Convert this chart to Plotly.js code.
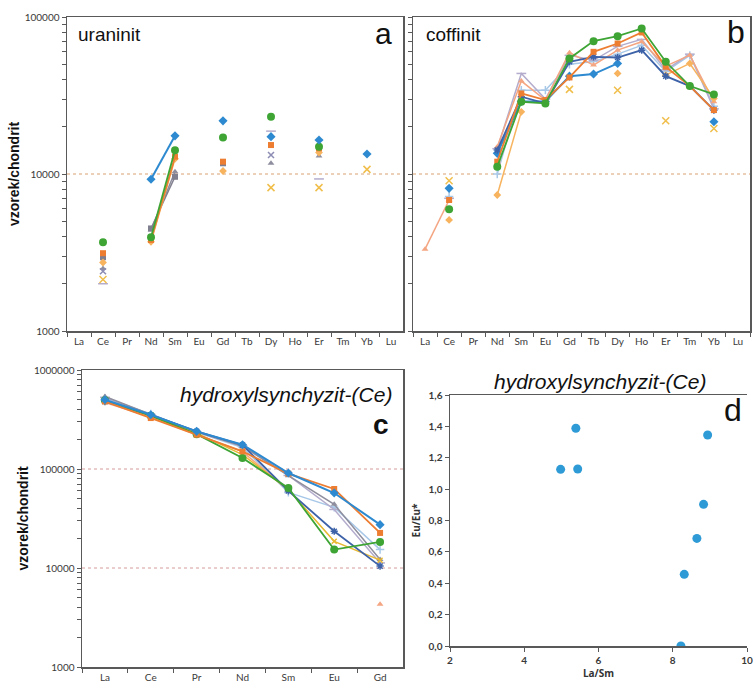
<!DOCTYPE html>
<html><head><meta charset="utf-8">
<script src="https://cdn.plot.ly/plotly-3.0.1.min.js"></script>
<style>html,body{margin:0;padding:0;background:#fff}#chart{width:753px;height:687px}</style>
</head><body><div id="chart"></div>
<script>
// ---------- categories ----------
const REE14 = ['La','Ce','Pr','Nd','Sm','Eu','Gd','Tb','Dy','Ho','Er','Tm','Yb','Lu'];
const REE7 = ['La','Ce','Pr','Nd','Sm','Eu','Gd'];
const n = null;

// ---------- a: uraninit ----------
const uran_s1 = [n, n,    n, 9250, 17500, n, 21800, n, 17300, n, 16450, n, 13400, n];
const uran_s2 = [n, 3130, n, 3800, 12900, n, 11980, n, 15290, n, 14570, n, n, n];
const uran_s3 = [n, 2500, n, 4400, 10340, n, n,     n, 11700, n, 13000, n, n, n];
const uran_s4 = [n, 2130, n, n,    n,     n, n,     n, 8190,  n, 8190,  n, 10700, n];
const uran_s5 = [n, 2950, n, 4500, 9600,  n, 11700, n, n,     n, n,     n, n, n];
const uran_s6 = [n, 3675, n, 3955, 14150, n, 17100, n, 23170, n, 14930, n, n, n];
const uran_s7 = [n, 2730, n, 3700, 12500, n, 10450, n, n,     n, 13700, n, n, n];
const uran_s8 = [n, 2400, n, n,    n,     n, n,     n, 13200, n, n,     n, n, n];
const uran_s9 = [n, 2000, n, n,    n,     n, n,     n, 18750, n, 9300,  n, n, n];

// ---------- b: coffinit ----------
const coff_s1 = [n,    8100, n, 13540, 29000, 29000, 42000, 43300, 50600, n,     n,     n,     21530, n];
const coff_s2 = [n,    6830, n, 11980, 32600, 29600, 41200, 60000, 67800, 79700, 48200, 36300, 25540, n];
const coff_s3 = [n,    n,    n, 14200, 31050, 28150, 51860, 55800, 55200, 61500, 42000, 36300, 25500, n];
const coff_s4 = [n,    9070, n, n,     n,     n,     34600, n,     34200, n,     21850, n,     19500, n];
const coff_s5 = [n,    7000, n, 14500, 43700, 30000, 57000, 53000, 65000, 72000, 46000, 58000, 26000, n];
const coff_s6 = [n,    5960, n, 11130, 28850, 28150, 54450, 70200, 75500, 84500, 51860, 36300, 32140, n];
const coff_s7 = [n,    7200, n, 10000, 34200, 34200, 50000, 52000, 58000, 66000, 45000, 57000, 27000, n];
const coff_s8 = [n,    5100, n, 7350,  24900, n,     n,     n,     43700, n,     42600, 50600, 30300, n];
const coff_s9 = [3320, 6830, n, 14930, 39070, 29600, 59300, 49400, 61500, 69600, 48700, 57150, 28850, n];

// ---------- c: hydroxylsynchyzit-(Ce) ----------
const hyd_s1 = [501000, 353000, 240000, 176000, 91100, 57200, 27400];
const hyd_s2 = [482000, 327000, 222000, 150700, 89700, 62800, 22600];
const hyd_s3 = [540000, 355000, 238000, 170000, 85600, 44000, 12200];
const hyd_s4 = [490000, 345000, 230000, 140000, 62000, 18600, 12000];
const hyd_s5 = [480000, 350000, 240000, 175000, 60000, 23500, 10450];
const hyd_s6 = [495000, 345000, 225000, 129000, 64300, 15350, 18350];
const hyd_s7 = [520000, 360000, 235000, 165000, 58000, 41000, 15350];
const hyd_s8 = [470000, 335000, 222000, 150000, 61000, n,     4300];
const hyd_s9 = [530000, 355000, 235000, 172000, 86000, 39000, 11250];

// ---------- d: Eu/Eu* vs La/Sm ----------
const laSm = [5.39, 4.98, 5.44, 8.94, 8.83, 8.65, 8.31, 8.22];
const euEu = [1.388, 1.126, 1.128, 1.345, 0.903, 0.686, 0.457, 0.0];

// ---------- tick labels ----------
const logTickLabels3to5 = ['1000','10000','100000'];
const logTickLabels3to6 = ['1000','10000','100000','1000000'];

// ---------- styles ----------
const S = [
  {c:'#2E8AD0', sym:'diamond', sz:7, w:2},
  {c:'#ED7D31', sym:'square', sz:6, w:1.8},
  {c:'#8E8E9E', sym:'triangle-up', sz:6, w:1.5},
  {c:'#F0BE4A', sym:'x-thin-open', sz:7, w:1.5},
  {c:'#3D62A8', sym:'asterisk-open', sz:6, w:1.8},
  {c:'#3EA535', sym:'circle', sz:8, w:1.8},
  {c:'#A8C8E8', sym:'cross-thin-open', sz:6, w:1.5},
  {c:'#F7B35E', sym:'diamond', sz:6, w:1.5},
  {c:'#B4ACCC', sym:'line-ew-open', sz:7, w:1.5},
  {c:'#F4A582', sym:'triangle-up', sz:6, w:1.5}
];

function tr(x, y, st, xa, ya) {
  const open = st.sym.indexOf('open') >= 0;
  return {x: x, y: y, type:'scatter', mode:'lines+markers', connectgaps:false,
    xaxis: xa, yaxis: ya, showlegend:false, hoverinfo:'x+y',
    line:{color: st.c, width: st.w},
    marker:{symbol: st.sym, size: st.sz, color: st.c, line:{color: st.c, width: open ? 1.5 : 0}}};
}

const traces = [];
// a
[[uran_s3,S[2]],[uran_s5,{c:'#7F7F8F',sym:'square',sz:6,w:1.5}],[uran_s8,{c:'#8C8CB4',sym:'x-thin-open',sz:6,w:1.5}],
 [uran_s9,S[8]],[uran_s7,S[7]],[uran_s4,S[3]],[uran_s2,S[1]],[uran_s6,S[5]],[uran_s1,S[0]]]
 .forEach(p => traces.push(tr(REE14, p[0], p[1], 'x', 'y')));
// b
[[coff_s7,S[6]],[coff_s5,S[8]],[coff_s9,S[9]],[coff_s8,S[7]],[coff_s4,S[3]],[coff_s1,S[0]],
 [coff_s3,S[4]],[coff_s2,S[1]],[coff_s6,S[5]]]
 .forEach(p => traces.push(tr(REE14, p[0], p[1], 'x2', 'y2')));
// c
[[hyd_s7,S[6]],[hyd_s9,S[8]],[hyd_s3,S[2]],[hyd_s8,S[9]],[hyd_s4,{c:'#E8B830',sym:'x-thin-open',sz:5,w:1.5}],
 [hyd_s5,S[4]],[hyd_s6,S[5]],[hyd_s2,S[1]],[hyd_s1,S[0]]]
 .forEach(p => traces.push(tr(REE7, p[0], p[1], 'x3', 'y3')));
// d
traces.push({x: laSm, y: euEu, type:'scatter', mode:'markers', xaxis:'x4', yaxis:'y4', showlegend:false,
  marker:{color:'#2E9BD6', size:9, symbol:'circle'}});

// log ticks (decades labelled, minor ticks unlabelled)
function logTicks(d0, d1, labels, blank) {
  const v = [], t = [];
  for (let d = d0; d <= d1; d++) {
    const base = Math.pow(10, d);
    for (let m = 1; m <= 9; m++) {
      if (d === d1 && m > 1) break;
      v.push(m * base);
      t.push(m === 1 && !blank ? labels[d - d0] : '');
    }
  }
  return {tickvals: v, ticktext: t};
}

const W = 753, H = 687;
const px = x => x / W, py = y => 1 - y / H;
const tickFont = {family:'Lato, "Open Sans", sans-serif', size:10, color:'#3a3a3a'};
const lineCol = '#595959';

function catAxis(domain, anchor, nCat) {
  return {domain: domain, anchor: anchor, type:'category', range:[-0.5, nCat - 0.5],
    tickson:'boundaries', ticks:'outside', ticklen:4, tickcolor:lineCol, showline:true, mirror:true,
    linecolor:lineCol, linewidth:1.5, showgrid:false, zeroline:false, tickfont:tickFont, fixedrange:true};
}
function logAxis(domain, anchor, d0, d1, labels, blank, title) {
  const t = logTicks(d0, d1, labels, blank);
  const ax = {domain: domain, anchor: anchor, type:'log', range:[d0, d1], tickmode:'array',
    tickvals: t.tickvals, ticktext: t.ticktext, ticks:'outside', ticklen:4, tickcolor:lineCol,
    showline:true, mirror:true, linecolor:lineCol, linewidth:1.5, showgrid:false, zeroline:false,
    tickfont:tickFont, fixedrange:true};
  if (title) ax.title = {text: title, font:{family:'"Liberation Sans", Arial, sans-serif', size:14, color:'#111'}, standoff:2};
  return ax;
}

const layout = {
  width: W, height: H, margin:{l:0, r:0, t:0, b:0}, paper_bgcolor:'#fff', plot_bgcolor:'#fff',
  separators: ',.', showlegend:false,
  xaxis:  catAxis([px(67), px(403)], 'y', 14),
  yaxis:  logAxis([py(331), py(17)], 'x', 3, 5, logTickLabels3to5, false, '<b>vzorek/chondrit</b>'),
  xaxis2: catAxis([px(413), px(750)], 'y2', 14),
  yaxis2: logAxis([py(331), py(17)], 'x2', 3, 5, logTickLabels3to5, true, null),
  xaxis3: catAxis([px(82), px(403)], 'y3', 7),
  yaxis3: logAxis([py(667), py(370)], 'x3', 3, 6, logTickLabels3to6, false, '<b>vzorek/chondrit</b>'),
  xaxis4: {domain:[px(450), px(747)], anchor:'y4', range:[2, 10], dtick:2, ticks:'outside', ticklen:4,
    tickcolor:lineCol, showline:true, mirror:true, linecolor:lineCol, linewidth:1.5, showgrid:false, zeroline:false,
    tickfont:{family:'Lato, sans-serif', size:10, color:'#3a3a3a', weight:'bold'}, fixedrange:true,
    title:{text:'<b>La/Sm</b>', font:{family:'"Open Sans", sans-serif', size:10, color:'#333'}, standoff:4}},
  yaxis4: {domain:[py(646), py(395)], anchor:'x4', range:[0, 1.6], dtick:0.2, tickformat:'.1f', ticks:'outside', ticklen:4,
    tickcolor:lineCol, showline:true, linecolor:lineCol, linewidth:1.5, showgrid:false, zeroline:false,
    tickfont:{family:'Lato, sans-serif', size:10, color:'#3a3a3a', weight:'bold'}, fixedrange:true,
    title:{text:'<b>Eu/Eu*</b>', font:{family:'"Open Sans", sans-serif', size:10, color:'#333'}, standoff:6}},
  shapes: [
    {type:'line', xref:'x domain', x0:0, x1:1, yref:'y', y0:10000, y1:10000, line:{color:'#D9A070', width:1, dash:'dot'}, layer:'below'},
    {type:'line', xref:'x2 domain', x0:0, x1:1, yref:'y2', y0:10000, y1:10000, line:{color:'#D9A070', width:1, dash:'dot'}, layer:'below'},
    {type:'line', xref:'x3 domain', x0:0, x1:1, yref:'y3', y0:100000, y1:100000, line:{color:'#D59A9A', width:1, dash:'dot'}, layer:'below'},
    {type:'line', xref:'x3 domain', x0:0, x1:1, yref:'y3', y0:10000, y1:10000, line:{color:'#D59A9A', width:1, dash:'dot'}, layer:'below'}
  ],
  annotations: [
    {text:'uraninit', xref:'paper', yref:'paper', x:px(76), y:py(35), xanchor:'left', yanchor:'middle', showarrow:false,
      font:{family:'"Liberation Sans", Arial, sans-serif', size:19, color:'#111'}},
    {text:'a', xref:'paper', yref:'paper', x:px(394), y:py(33), xanchor:'right', yanchor:'middle', showarrow:false,
      font:{family:'"Liberation Sans", Arial, sans-serif', size:30, color:'#111'}},
    {text:'coffinit', xref:'paper', yref:'paper', x:px(424), y:py(35), xanchor:'left', yanchor:'middle', showarrow:false,
      font:{family:'"Liberation Sans", Arial, sans-serif', size:19, color:'#111'}},
    {text:'b', xref:'paper', yref:'paper', x:px(747), y:py(32), xanchor:'right', yanchor:'middle', showarrow:false,
      font:{family:'"Liberation Sans", Arial, sans-serif', size:32, color:'#111'}},
    {text:'<i>hydroxylsynchyzit-(Ce)</i>', xref:'paper', yref:'paper', x:px(394), y:py(394), xanchor:'right', yanchor:'middle', showarrow:false,
      font:{family:'"Liberation Sans", Arial, sans-serif', size:21, color:'#111'}},
    {text:'<b>c</b>', xref:'paper', yref:'paper', x:px(391), y:py(424), xanchor:'right', yanchor:'middle', showarrow:false,
      font:{family:'"Liberation Sans", Arial, sans-serif', size:28, color:'#111'}},
    {text:'<i>hydroxylsynchyzit-(Ce)</i>', xref:'paper', yref:'paper', x:px(600), y:py(381), xanchor:'center', yanchor:'middle', showarrow:false,
      font:{family:'"Liberation Sans", Arial, sans-serif', size:21, color:'#111'}},
    {text:'d', xref:'paper', yref:'paper', x:px(744), y:py(410), xanchor:'right', yanchor:'middle', showarrow:false,
      font:{family:'"Liberation Sans", Arial, sans-serif', size:32, color:'#111'}}
  ]
};

Plotly.newPlot('chart', traces, layout, {staticPlot:true, displayModeBar:false});
</script>
</body></html>
